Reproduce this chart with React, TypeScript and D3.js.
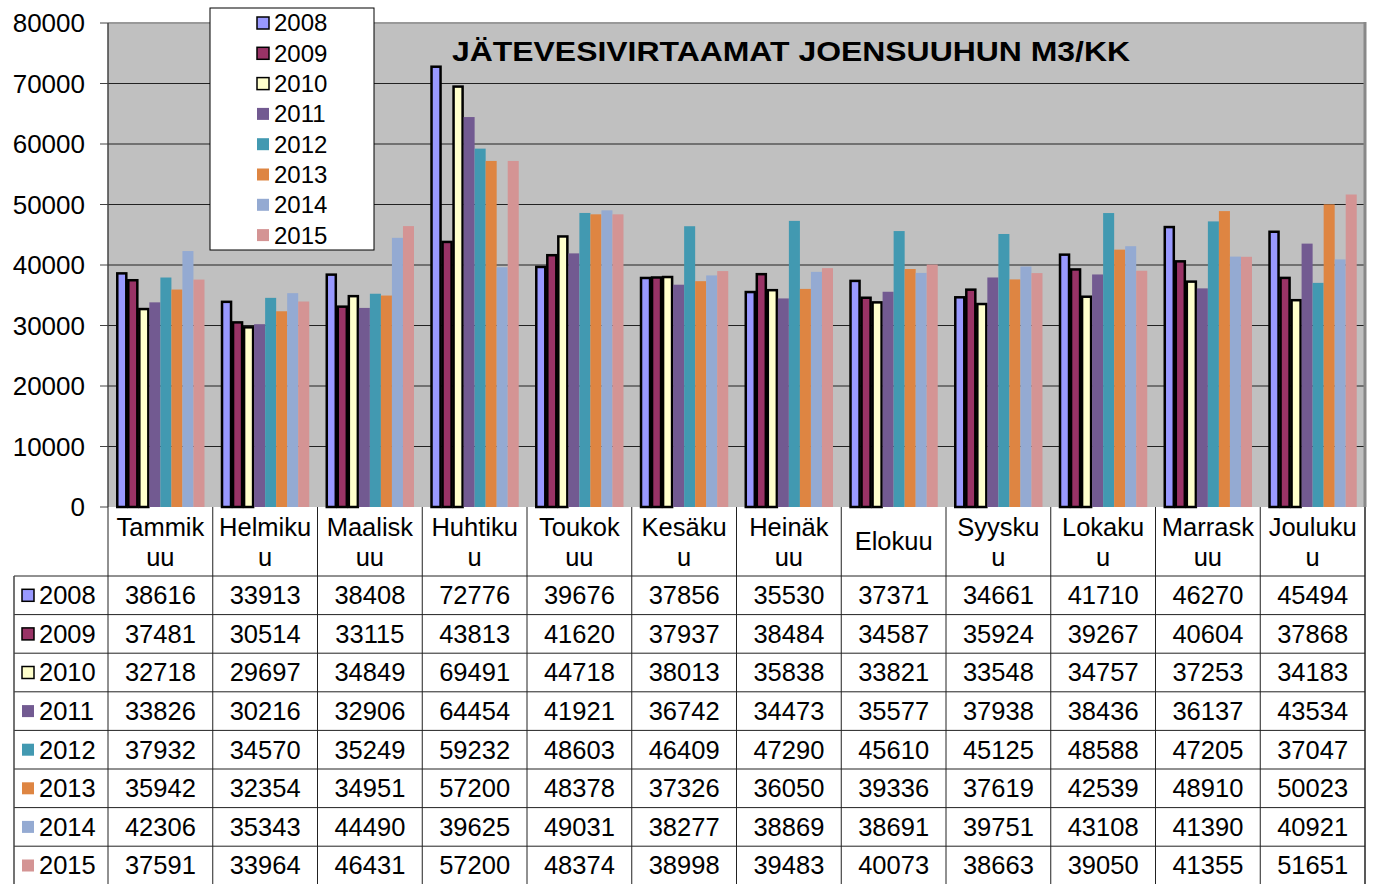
import * as d3 from "d3";

// kuukaudet (kaksi riviä kuten taulukossa)
const months = [
  ["Tammik", "uu"], ["Helmiku", "u"], ["Maalisk", "uu"], ["Huhtiku", "u"],
  ["Toukok", "uu"], ["Kesäku", "u"], ["Heinäk", "uu"], ["Elokuu"],
  ["Syysku", "u"], ["Lokaku", "u"], ["Marrask", "uu"], ["Jouluku", "u"]
];
const years = ["2008", "2009", "2010", "2011", "2012", "2013", "2014", "2015"];

const v2008 = [38616, 33913, 38408, 72776, 39676, 37856, 35530, 37371, 34661, 41710, 46270, 45494];
const v2009 = [37481, 30514, 33115, 43813, 41620, 37937, 38484, 34587, 35924, 39267, 40604, 37868];
const v2010 = [32718, 29697, 34849, 69491, 44718, 38013, 35838, 33821, 33548, 34757, 37253, 34183];
const v2011 = [33826, 30216, 32906, 64454, 41921, 36742, 34473, 35577, 37938, 38436, 36137, 43534];
const v2012 = [37932, 34570, 35249, 59232, 48603, 46409, 47290, 45610, 45125, 48588, 47205, 37047];
const v2013 = [35942, 32354, 34951, 57200, 48378, 37326, 36050, 39336, 37619, 42539, 48910, 50023];
const v2014 = [42306, 35343, 44490, 39625, 49031, 38277, 38869, 38691, 39751, 43108, 41390, 40921];
const v2015 = [37591, 33964, 46431, 57200, 48374, 38998, 39483, 40073, 38663, 39050, 41355, 51651];
const values = [v2008, v2009, v2010, v2011, v2012, v2013, v2014, v2015];

const colors = ["#9999FF", "#993366", "#FFFFCC", "#725A91", "#4299B1", "#DE8542", "#94AAD2", "#D49494"];
const bordered = [true, true, true, false, false, false, false, false];

const yTicks = [0, 10000, 20000, 30000, 40000, 50000, 60000, 70000, 80000];

const width = 1373;
const height = 884;
const left = 108, right = 1365, top = 23, bottom = 507;
const tableLeft = 14;
const headerBottom = 576;
const rowH = 38.6;
const font = "Liberation Sans, Arial, sans-serif";
const fs = 25.5;

export default function App() {
  const monthKeys = months.map((m) => m.join(""));
  const x = d3.scaleBand().domain(monthKeys).range([left, right]);
  const xs = d3.scaleBand().domain(years).range([0, x.bandwidth()]).paddingOuter(0.75);
  const y = d3.scaleLinear().domain([0, 80000]).range([bottom, top]);

  const rowY = (i: number) => headerBottom + i * rowH;

  return (
    <svg width={width} height={height} style={{ position: "absolute", left: 0, top: 0, background: "#fff" }} fontFamily={font}>
      {/* plot area */}
      <rect x={left} y={top} width={right - left} height={bottom - top} fill="#C0C0C0" />
      {yTicks.slice(1, -1).map((t) => (
        <line key={t} x1={left} x2={right} y1={y(t)} y2={y(t)} stroke="#222" strokeWidth={1} />
      ))}
      <line x1={left} x2={right} y1={y(80000)} y2={y(80000)} stroke="#999" strokeWidth={2} />
      <line x1={right} x2={right} y1={top - 1} y2={bottom} stroke="#888" strokeWidth={3} />

      {/* bars */}
      {values.map((vals, si) => (
        <g key={years[si]}>
          {vals.map((v, mi) => {
            const bx = (x(monthKeys[mi]) as number) + (xs(years[si]) as number);
            const bw = xs.bandwidth();
            return bordered[si] ? (
              <rect key={mi} x={bx + 1} y={y(v)} width={bw - 2} height={bottom - y(v)}
                fill={colors[si]} stroke="#000" strokeWidth={2.5} />
            ) : (
              <rect key={mi} x={bx} y={y(v)} width={bw} height={bottom - y(v)} fill={colors[si]} />
            );
          })}
        </g>
      ))}

      {/* y axis */}
      <line x1={left} x2={left} y1={top} y2={bottom} stroke="#444" strokeWidth={1.5} />
      {yTicks.map((t) => (
        <g key={t}>
          <line x1={left - 8} x2={left} y1={y(t)} y2={y(t)} stroke="#444" strokeWidth={1} />
          <text x={85} y={y(t)} dy="0.35em" textAnchor="end" fontSize={26}>{t}</text>
        </g>
      ))}

      {/* title */}
      <text x={791} y={61} textAnchor="middle" fontSize={28} fontWeight="bold"
        textLength={678} lengthAdjust="spacingAndGlyphs">JÄTEVESIVIRTAAMAT JOENSUUHUN M3/KK</text>

      {/* legend */}
      <rect x={210} y={8} width={164} height={242} fill="#fff" stroke="#000" strokeWidth={1} />
      {years.map((yr, i) => {
        const cy = 23 + i * 30.3;
        return (
          <g key={yr}>
            <rect x={257} y={cy - 6} width={12} height={12} fill={colors[i]}
              stroke={bordered[i] ? "#000" : "none"} strokeWidth={1.5} />
            <text x={274} y={cy} dy="0.35em" fontSize={24}>{yr}</text>
          </g>
        );
      })}

      {/* data table */}
      {months.map((m, mi) => {
        const cx = (x(monthKeys[mi]) as number) + x.bandwidth() / 2;
        return m.length === 1 ? (
          <text key={mi} x={cx} y={541} dy="0.35em" textAnchor="middle" fontSize={fs}>{m[0]}</text>
        ) : (
          <g key={mi}>
            <text x={cx} y={527} dy="0.35em" textAnchor="middle" fontSize={fs}>{m[0]}</text>
            <text x={cx} y={557} dy="0.35em" textAnchor="middle" fontSize={fs}>{m[1]}</text>
          </g>
        );
      })}
      {values.map((vals, si) => {
        const cy = rowY(si) + rowH / 2;
        return (
          <g key={years[si]}>
            <rect x={22} y={cy - 6} width={12} height={12} fill={colors[si]}
              stroke={bordered[si] ? "#000" : "none"} strokeWidth={1.5} />
            <text x={39} y={cy} dy="0.35em" fontSize={fs}>{years[si]}</text>
            {vals.map((v, mi) => (
              <text key={mi} x={(x(monthKeys[mi]) as number) + x.bandwidth() / 2} y={cy} dy="0.35em"
                textAnchor="middle" fontSize={fs}>{v}</text>
            ))}
          </g>
        );
      })}
      {/* table grid */}
      {d3.range(years.length + 1).map((i) => (
        <line key={i} x1={tableLeft} x2={right} y1={rowY(i)} y2={rowY(i)} stroke="#222" strokeWidth={1} />
      ))}
      <line x1={tableLeft} x2={tableLeft} y1={headerBottom} y2={height} stroke="#444" strokeWidth={1.5} />
      {monthKeys.map((k) => (
        <line key={k} x1={x(k) as number} x2={x(k) as number} y1={bottom} y2={height} stroke="#222" strokeWidth={1} />
      ))}
      <line x1={right} x2={right} y1={bottom} y2={height} stroke="#222" strokeWidth={1.5} />
    </svg>
  );
}
